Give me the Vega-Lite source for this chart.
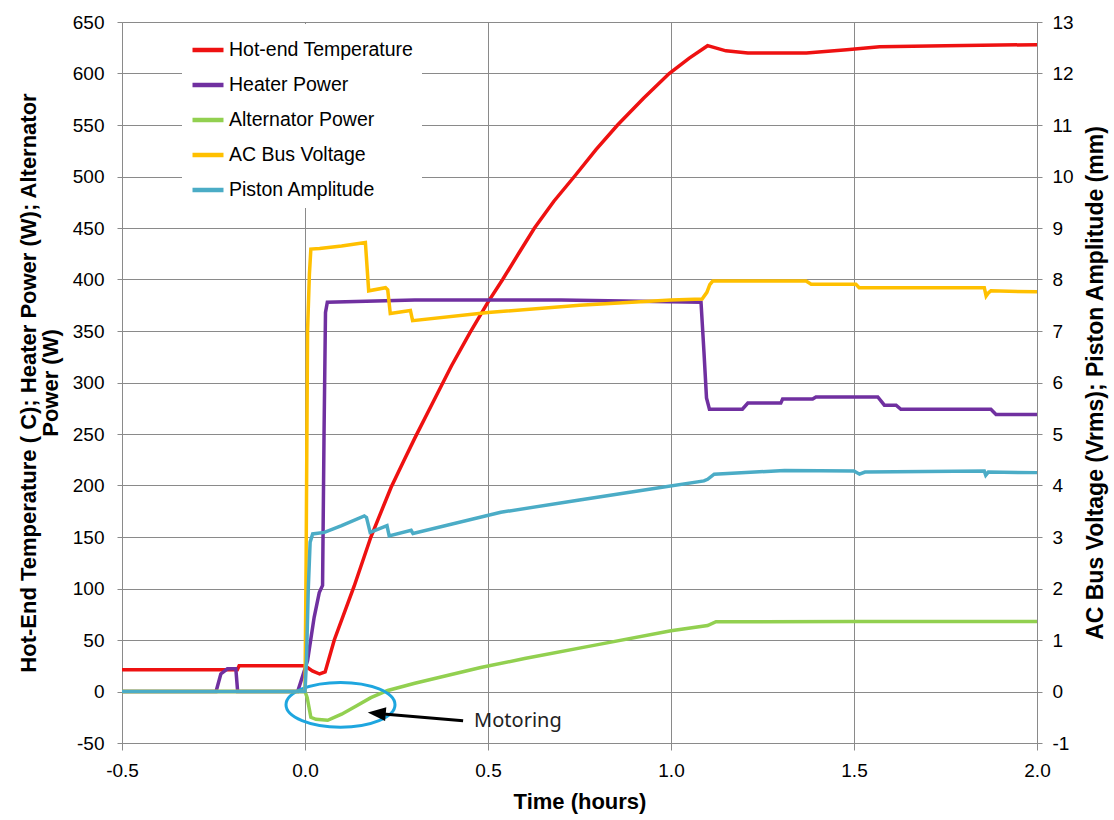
{
  "$schema": "https://vega.github.io/schema/vega-lite/v6.json",
  "width": 915,
  "height": 721,
  "autosize": {"type": "none"},
  "padding": {"left": 122, "top": 22, "right": 77, "bottom": 77},
  "background": "white",
  "config": {
    "view": {"stroke": null},
    "font": "Liberation Sans",
    "axis": {
      "labelFont": "Liberation Sans", "labelFontSize": 19, "labelColor": "black",
      "titleFont": "Liberation Sans", "titleFontSize": 22, "titleFontWeight": "bold", "titleColor": "black",
      "gridColor": "#8a8a8a", "gridOpacity": 1, "gridWidth": 1,
      "domainColor": "#8a8a8a", "tickColor": "#8a8a8a", "labelFlush": false, "labelOverlap": false
    },
    "legend": {
      "orient": "none", "legendX": 60, "legendY": 2,
      "symbolType": "stroke", "symbolStrokeWidth": 4.5, "symbolSize": 961,
      "labelFont": "Liberation Sans", "labelFontSize": 19.5, "labelColor": "black", "labelLimit": 400,
      "rowPadding": 7, "fillColor": "white", "padding": 8, "labelOffset": 3
    }
  },
  "datasets": {
    "left": [
      {"s": "Hot-end Temperature", "t": -0.5, "v": 21},
      {"s": "Hot-end Temperature", "t": -0.185, "v": 21},
      {"s": "Hot-end Temperature", "t": -0.18, "v": 25},
      {"s": "Hot-end Temperature", "t": 0.0, "v": 25},
      {"s": "Hot-end Temperature", "t": 0.02, "v": 20},
      {"s": "Hot-end Temperature", "t": 0.04, "v": 17},
      {"s": "Hot-end Temperature", "t": 0.055, "v": 19},
      {"s": "Hot-end Temperature", "t": 0.08, "v": 50},
      {"s": "Hot-end Temperature", "t": 0.134, "v": 102},
      {"s": "Hot-end Temperature", "t": 0.18, "v": 150},
      {"s": "Hot-end Temperature", "t": 0.235, "v": 198},
      {"s": "Hot-end Temperature", "t": 0.27, "v": 224},
      {"s": "Hot-end Temperature", "t": 0.3, "v": 246},
      {"s": "Hot-end Temperature", "t": 0.35, "v": 281},
      {"s": "Hot-end Temperature", "t": 0.4, "v": 316},
      {"s": "Hot-end Temperature", "t": 0.45, "v": 348},
      {"s": "Hot-end Temperature", "t": 0.5, "v": 378},
      {"s": "Hot-end Temperature", "t": 0.54, "v": 400},
      {"s": "Hot-end Temperature", "t": 0.585, "v": 426},
      {"s": "Hot-end Temperature", "t": 0.627, "v": 450},
      {"s": "Hot-end Temperature", "t": 0.68, "v": 476},
      {"s": "Hot-end Temperature", "t": 0.736, "v": 500},
      {"s": "Hot-end Temperature", "t": 0.795, "v": 526},
      {"s": "Hot-end Temperature", "t": 0.854, "v": 550},
      {"s": "Hot-end Temperature", "t": 0.925, "v": 576},
      {"s": "Hot-end Temperature", "t": 0.995, "v": 600},
      {"s": "Hot-end Temperature", "t": 1.05, "v": 615},
      {"s": "Hot-end Temperature", "t": 1.1, "v": 627},
      {"s": "Hot-end Temperature", "t": 1.15, "v": 622},
      {"s": "Hot-end Temperature", "t": 1.21, "v": 620},
      {"s": "Hot-end Temperature", "t": 1.37, "v": 620},
      {"s": "Hot-end Temperature", "t": 1.48, "v": 623},
      {"s": "Hot-end Temperature", "t": 1.57, "v": 626},
      {"s": "Hot-end Temperature", "t": 1.75, "v": 627},
      {"s": "Hot-end Temperature", "t": 2.0, "v": 628},
      {"s": "Heater Power", "t": -0.5, "v": 0},
      {"s": "Heater Power", "t": -0.243, "v": 0},
      {"s": "Heater Power", "t": -0.23, "v": 17},
      {"s": "Heater Power", "t": -0.212, "v": 22},
      {"s": "Heater Power", "t": -0.189, "v": 22},
      {"s": "Heater Power", "t": -0.184, "v": 0},
      {"s": "Heater Power", "t": -0.02, "v": 0},
      {"s": "Heater Power", "t": 0.007, "v": 30},
      {"s": "Heater Power", "t": 0.025, "v": 72},
      {"s": "Heater Power", "t": 0.039, "v": 96},
      {"s": "Heater Power", "t": 0.048, "v": 103},
      {"s": "Heater Power", "t": 0.052, "v": 250},
      {"s": "Heater Power", "t": 0.056, "v": 368},
      {"s": "Heater Power", "t": 0.061, "v": 378},
      {"s": "Heater Power", "t": 0.3, "v": 380},
      {"s": "Heater Power", "t": 0.7, "v": 380},
      {"s": "Heater Power", "t": 1.082, "v": 378},
      {"s": "Heater Power", "t": 1.09, "v": 330},
      {"s": "Heater Power", "t": 1.097, "v": 285},
      {"s": "Heater Power", "t": 1.105, "v": 274},
      {"s": "Heater Power", "t": 1.195, "v": 274},
      {"s": "Heater Power", "t": 1.21, "v": 280},
      {"s": "Heater Power", "t": 1.3, "v": 280},
      {"s": "Heater Power", "t": 1.305, "v": 284},
      {"s": "Heater Power", "t": 1.387, "v": 284},
      {"s": "Heater Power", "t": 1.396, "v": 286},
      {"s": "Heater Power", "t": 1.565, "v": 286},
      {"s": "Heater Power", "t": 1.583, "v": 278},
      {"s": "Heater Power", "t": 1.615, "v": 278},
      {"s": "Heater Power", "t": 1.628, "v": 274},
      {"s": "Heater Power", "t": 1.874, "v": 274},
      {"s": "Heater Power", "t": 1.888, "v": 269},
      {"s": "Heater Power", "t": 2.0, "v": 269},
      {"s": "Alternator Power", "t": -0.5, "v": 0},
      {"s": "Alternator Power", "t": 0.0, "v": 0},
      {"s": "Alternator Power", "t": 0.006, "v": -6},
      {"s": "Alternator Power", "t": 0.016, "v": -25},
      {"s": "Alternator Power", "t": 0.03, "v": -27},
      {"s": "Alternator Power", "t": 0.062, "v": -28},
      {"s": "Alternator Power", "t": 0.1, "v": -22},
      {"s": "Alternator Power", "t": 0.14, "v": -14},
      {"s": "Alternator Power", "t": 0.18, "v": -6},
      {"s": "Alternator Power", "t": 0.226, "v": 1},
      {"s": "Alternator Power", "t": 0.3, "v": 8},
      {"s": "Alternator Power", "t": 0.4, "v": 16.5},
      {"s": "Alternator Power", "t": 0.48, "v": 23.3},
      {"s": "Alternator Power", "t": 0.6, "v": 32},
      {"s": "Alternator Power", "t": 0.8, "v": 45.5},
      {"s": "Alternator Power", "t": 1.0, "v": 59},
      {"s": "Alternator Power", "t": 1.1, "v": 64},
      {"s": "Alternator Power", "t": 1.123, "v": 67.7},
      {"s": "Alternator Power", "t": 1.5, "v": 68},
      {"s": "Alternator Power", "t": 2.0, "v": 68}
    ],
    "right": [
      {"s": "AC Bus Voltage", "t": -0.5, "v": 0},
      {"s": "AC Bus Voltage", "t": 0.0, "v": 0},
      {"s": "AC Bus Voltage", "t": 0.003, "v": 2.5},
      {"s": "AC Bus Voltage", "t": 0.007, "v": 7.0},
      {"s": "AC Bus Voltage", "t": 0.012, "v": 8.1},
      {"s": "AC Bus Voltage", "t": 0.016, "v": 8.59},
      {"s": "AC Bus Voltage", "t": 0.04, "v": 8.6},
      {"s": "AC Bus Voltage", "t": 0.1, "v": 8.65},
      {"s": "AC Bus Voltage", "t": 0.165, "v": 8.72},
      {"s": "AC Bus Voltage", "t": 0.169, "v": 8.3},
      {"s": "AC Bus Voltage", "t": 0.174, "v": 7.78},
      {"s": "AC Bus Voltage", "t": 0.22, "v": 7.84},
      {"s": "AC Bus Voltage", "t": 0.226, "v": 7.8},
      {"s": "AC Bus Voltage", "t": 0.233, "v": 7.34},
      {"s": "AC Bus Voltage", "t": 0.288, "v": 7.4},
      {"s": "AC Bus Voltage", "t": 0.294, "v": 7.2},
      {"s": "AC Bus Voltage", "t": 0.5, "v": 7.36},
      {"s": "AC Bus Voltage", "t": 0.75, "v": 7.5},
      {"s": "AC Bus Voltage", "t": 1.0, "v": 7.6},
      {"s": "AC Bus Voltage", "t": 1.085, "v": 7.62},
      {"s": "AC Bus Voltage", "t": 1.098, "v": 7.75},
      {"s": "AC Bus Voltage", "t": 1.106, "v": 7.9},
      {"s": "AC Bus Voltage", "t": 1.114, "v": 7.97},
      {"s": "AC Bus Voltage", "t": 1.369, "v": 7.97},
      {"s": "AC Bus Voltage", "t": 1.383, "v": 7.91},
      {"s": "AC Bus Voltage", "t": 1.505, "v": 7.91},
      {"s": "AC Bus Voltage", "t": 1.514, "v": 7.84},
      {"s": "AC Bus Voltage", "t": 1.856, "v": 7.84},
      {"s": "AC Bus Voltage", "t": 1.861, "v": 7.68},
      {"s": "AC Bus Voltage", "t": 1.867, "v": 7.74},
      {"s": "AC Bus Voltage", "t": 1.874, "v": 7.78},
      {"s": "AC Bus Voltage", "t": 2.0, "v": 7.76},
      {"s": "Piston Amplitude", "t": -0.5, "v": 0},
      {"s": "Piston Amplitude", "t": 0.0, "v": 0},
      {"s": "Piston Amplitude", "t": 0.004, "v": 0.6},
      {"s": "Piston Amplitude", "t": 0.009, "v": 2.0},
      {"s": "Piston Amplitude", "t": 0.014, "v": 2.9},
      {"s": "Piston Amplitude", "t": 0.021, "v": 3.06},
      {"s": "Piston Amplitude", "t": 0.053, "v": 3.09},
      {"s": "Piston Amplitude", "t": 0.1, "v": 3.22},
      {"s": "Piston Amplitude", "t": 0.162, "v": 3.41},
      {"s": "Piston Amplitude", "t": 0.168, "v": 3.38},
      {"s": "Piston Amplitude", "t": 0.178, "v": 3.09},
      {"s": "Piston Amplitude", "t": 0.224, "v": 3.22},
      {"s": "Piston Amplitude", "t": 0.23, "v": 3.02},
      {"s": "Piston Amplitude", "t": 0.29, "v": 3.13},
      {"s": "Piston Amplitude", "t": 0.295, "v": 3.07},
      {"s": "Piston Amplitude", "t": 0.535, "v": 3.48},
      {"s": "Piston Amplitude", "t": 0.75, "v": 3.72},
      {"s": "Piston Amplitude", "t": 0.945, "v": 3.93},
      {"s": "Piston Amplitude", "t": 1.09, "v": 4.09},
      {"s": "Piston Amplitude", "t": 1.1, "v": 4.12},
      {"s": "Piston Amplitude", "t": 1.118, "v": 4.22},
      {"s": "Piston Amplitude", "t": 1.31, "v": 4.29},
      {"s": "Piston Amplitude", "t": 1.5, "v": 4.28},
      {"s": "Piston Amplitude", "t": 1.515, "v": 4.22},
      {"s": "Piston Amplitude", "t": 1.53, "v": 4.26},
      {"s": "Piston Amplitude", "t": 1.856, "v": 4.28},
      {"s": "Piston Amplitude", "t": 1.86, "v": 4.2},
      {"s": "Piston Amplitude", "t": 1.867, "v": 4.26},
      {"s": "Piston Amplitude", "t": 2.0, "v": 4.25}
    ]
  },
  "layer": [
    {
      "encoding": {
        "x": {
          "field": "t", "type": "quantitative",
          "scale": {"domain": [-0.5, 2], "nice": false, "zero": false},
          "axis": {"values": [-0.5, 0, 0.5, 1, 1.5, 2], "format": ".1f", "labelExpr": "replace(datum.label, '\u2212', '-')", "grid": true, "tickSize": 7, "labelPadding": 11, "titlePadding": 11, "title": "Time (hours)"}
        },
        "y": {
          "field": "v", "type": "quantitative",
          "scale": {"domain": [-50, 650], "nice": false, "zero": false},
          "axis": {
            "values": [-50, 0, 50, 100, 150, 200, 250, 300, 350, 400, 450, 500, 550, 600, 650],
            "labelExpr": "replace(datum.label, '\u2212', '-')",
            "grid": true, "tickSize": 5, "labelPadding": 13, "titlePadding": 10, "titleLineHeight": 22,
            "title": ["Hot-End Temperature ( C); Heater Power (W); Alternator", "Power (W)"]
          }
        }
      },
      "layer": [
        {
          "data": {"name": "left"},
          "mark": {"type": "line", "strokeWidth": 3.5, "interpolate": "linear"},
          "encoding": {
            "color": {
              "field": "s", "type": "nominal",
              "scale": {
                "domain": ["Hot-end Temperature", "Heater Power", "Alternator Power", "AC Bus Voltage", "Piston Amplitude"],
                "range": ["#ee1111", "#7030a0", "#92d050", "#ffc000", "#4bacc6"]
              },
              "legend": {"title": null}
            }
          }
        },
        {
          "data": {"values": [{"t": 0.097, "v": -12.9}]},
          "mark": {"type": "point", "shape": "M-1,0A1,0.41,0,1,0,1,0A1,0.41,0,1,0,-1,0Z", "size": 11881, "filled": false, "stroke": "#1ea6df", "strokeWidth": 3, "opacity": 1}
        },
        {
          "data": {"values": [{"t": 0.432, "v": -28.4, "t2": 0.19, "v2": -21.2}]},
          "mark": {"type": "rule", "stroke": "black", "strokeWidth": 3},
          "encoding": {"x2": {"field": "t2"}, "y2": {"field": "v2"}}
        },
        {
          "data": {"values": [{"t": 0.196, "v": -21.2}]},
          "mark": {"type": "point", "shape": "M-1,0L1,-0.78L1,0.78Z", "size": 324, "filled": true, "fill": "black", "strokeWidth": 0, "opacity": 1, "angle": 5}
        },
        {
          "data": {"values": [{"t": 0.462, "v": -28.5, "label": "Motoring"}]},
          "mark": {"type": "text", "align": "left", "baseline": "middle", "font": "Noto Sans", "fontSize": 20, "color": "#222222"},
          "encoding": {"text": {"field": "label"}}
        }
      ]
    },
    {
      "data": {"name": "right"},
      "mark": {"type": "line", "strokeWidth": 3.5, "interpolate": "linear"},
      "encoding": {
        "x": {
          "field": "t", "type": "quantitative",
          "scale": {"domain": [-0.5, 2], "nice": false, "zero": false},
          "axis": {"values": [-0.5, 0, 0.5, 1, 1.5, 2], "format": ".1f", "labelExpr": "replace(datum.label, '\u2212', '-')", "grid": true, "tickSize": 7, "labelPadding": 11, "titlePadding": 11, "title": "Time (hours)"}
        },
        "y": {
          "field": "v", "type": "quantitative",
          "scale": {"domain": [-1, 13], "nice": false, "zero": false},
          "axis": {
            "orient": "right", "values": [-1, 0, 1, 2, 3, 4, 5, 6, 7, 8, 9, 10, 11, 12, 13],
            "labelExpr": "replace(datum.label, '\u2212', '-')",
            "grid": false, "tickSize": 5, "labelPadding": 10, "titlePadding": 11,
            "titleAngle": 270, "titleBaseline": "top", "titleFontSize": 23,
            "title": "AC Bus Voltage (Vrms); Piston Amplitude (mm)"
          }
        },
        "color": {
          "field": "s", "type": "nominal",
          "scale": {
            "domain": ["Hot-end Temperature", "Heater Power", "Alternator Power", "AC Bus Voltage", "Piston Amplitude"],
            "range": ["#ee1111", "#7030a0", "#92d050", "#ffc000", "#4bacc6"]
          },
          "legend": {"title": null}
        }
      }
    }
  ],
  "resolve": {"scale": {"y": "independent"}}
}
